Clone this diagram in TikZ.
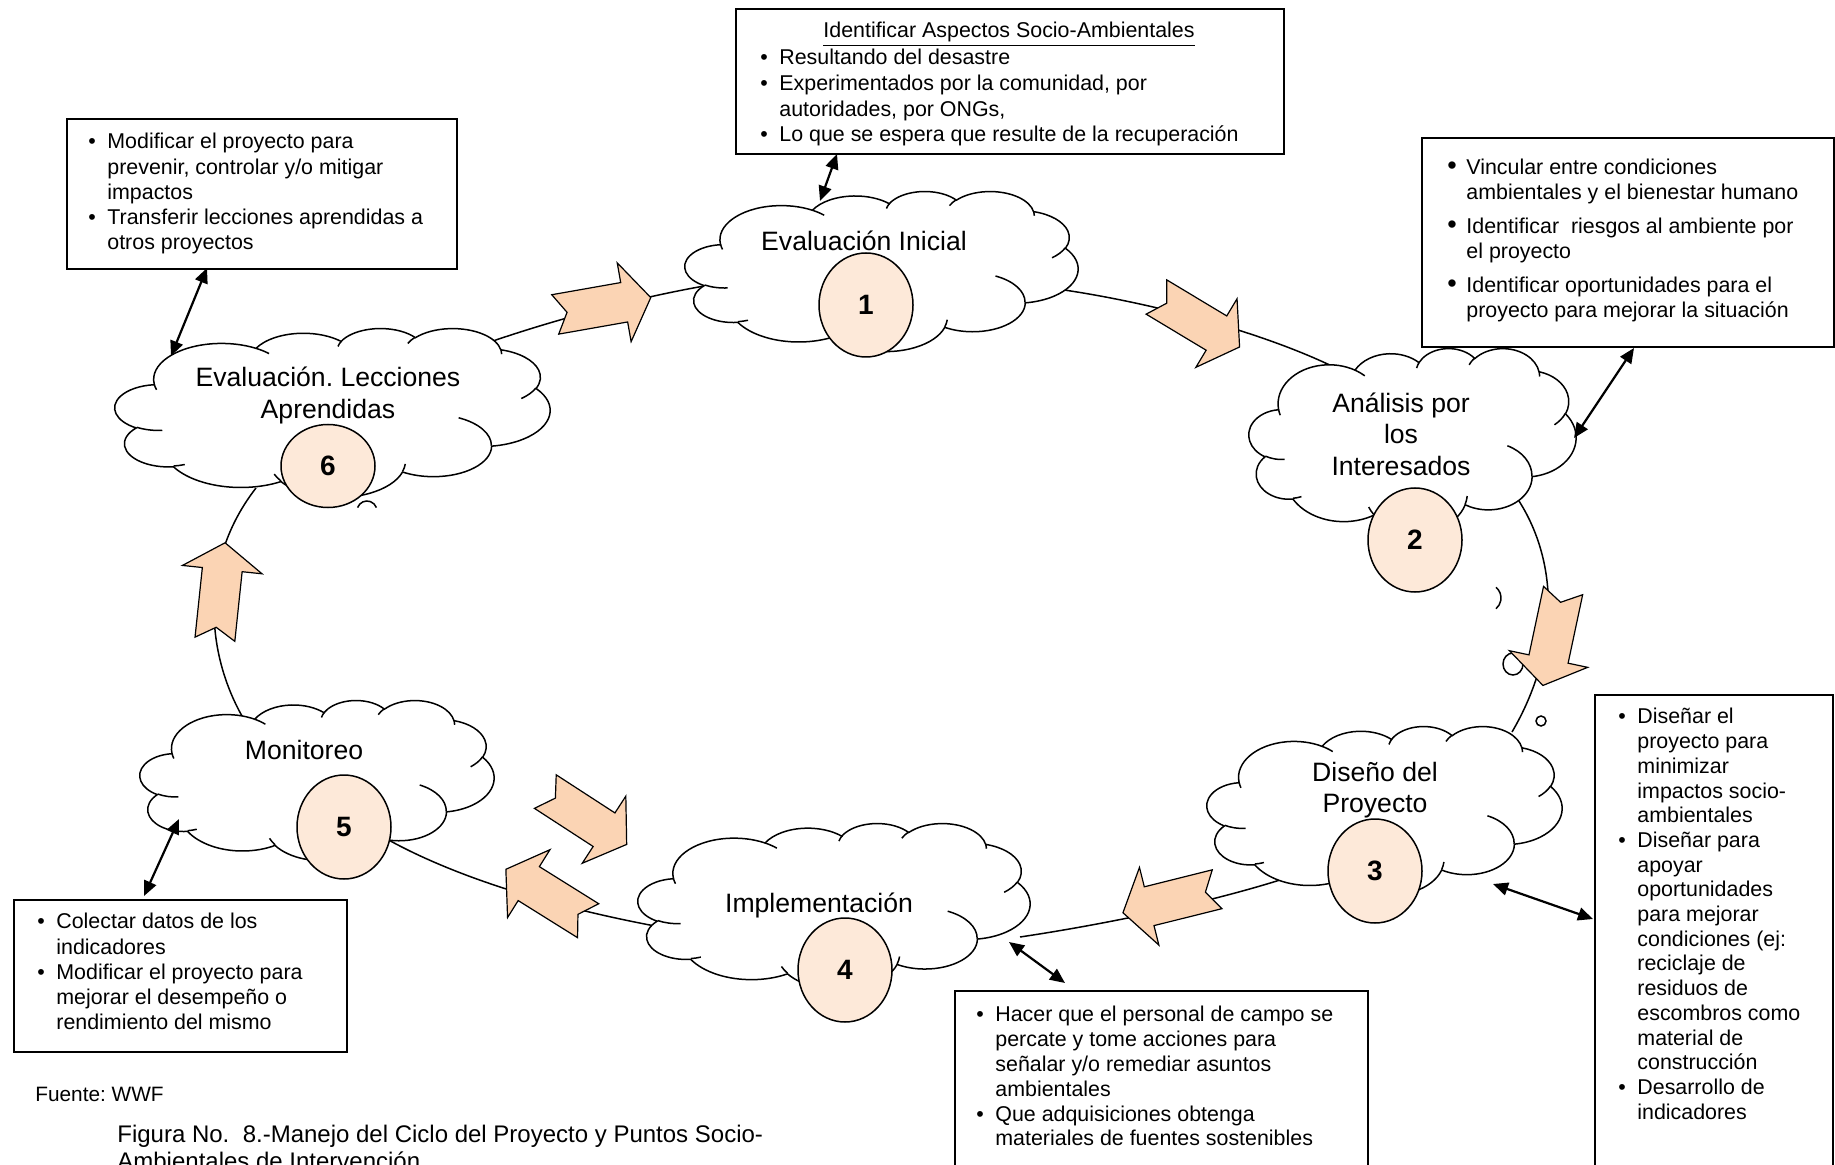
\documentclass[tikz,border=0pt]{standalone}
\usepackage{fontspec}
\setmainfont{Liberation Sans}
\usetikzlibrary{arrows.meta,shapes.geometric}
\definecolor{arrowpeach}{RGB}{251,212,180}
\definecolor{circpeach}{RGB}{253,233,217}
\frenchspacing

% DrawingML-like arcTo: visual angles -> parametric
\newcommand\mkarc[5]{%
  \pgfmathsetmacro\tmpA{atan2((#2)*sin(#4),(#3)*cos(#4))}%
  \pgfmathsetmacro\tmpB{atan2((#2)*sin((#4)+(#5)),(#3)*cos((#4)+(#5)))}%
  \pgfmathsetmacro\tmpD{\tmpB-\tmpA}%
  \pgfmathsetmacro\tmpD{ifthenelse(\tmpD<0,\tmpD+360,\tmpD)}%
  \expandafter\xdef\csname arc#1\endcsname{arc[start angle=\tmpA, delta angle=\tmpD, x radius=#2, y radius=#3]}%
}
\mkarc{MA}{67.53}{91.90}{-190.4875}{123.7805}
\mkarc{MB}{53.33}{72.67}{-144.1024}{89.9452}
\mkarc{MC}{43.65}{59.45}{-145.8079}{99.7230}
\mkarc{MD}{48.57}{65.95}{-130.9861}{117.2417}
\mkarc{ME}{53.33}{72.73}{-78.7089}{109.0269}
\mkarc{MF}{67.75}{92.20}{-46.2673}{130.2690}
\mkarc{MG}{57.85}{78.67}{0.6250}{114.0333}
\mkarc{MH}{67.52}{92.15}{22.4516}{115.1726}
\mkarc{MI}{77.20}{105.43}{66.2426}{75.7110}
\mkarc{MJ}{43.60}{59.18}{-274.9421}{146.7356}
\mkarc{MK}{43.45}{59.45}{-246.8285}{152.5189}
\mkarc{IA}{43.45}{59.45}{86.742}{26.4295}
\mkarc{IB}{43.60}{59.18}{73.6105}{11.4475}
\mkarc{IC}{67.52}{92.15}{137.6241}{14.0811}
\mkarc{ID}{67.52}{92.15}{6.4533}{15.9984}
\mkarc{IE}{57.85}{78.67}{-70.2924}{70.9174}
\mkarc{IF}{53.33}{72.73}{30.3180}{27.7515}
\mkarc{IG}{48.57}{65.95}{-13.7443}{14.8589}
\mkarc{IH}{48.57}{65.95}{-149.1815}{18.1954}
\mkarc{II}{43.65}{59.45}{-163.4943}{17.6864}
\mkarc{IJ}{67.53}{91.90}{-66.7070}{12.3194}
\mkarc{IK}{67.53}{91.90}{157.6544}{11.8582}

\def\cloudmain{(39,143.7) \arcMA \arcMB \arcMC \arcMD \arcME \arcMF \arcMG \arcMH \arcMI \arcMJ \arcMK -- cycle}
\def\cloudinner{(46.93,261.77) \arcIA (69.28,348.99) \arcIB (164.78,390.90) \arcIC (288.27,347.51) \arcID (341.29,229.54) \arcIE (417.98,153.54) \arcIF (383.24,54.26) \arcIG (290.78,39.52) \arcIH (221.41,47.20) \arcII (140.00,51.92) \arcIJ (41.27,157.89) \arcIK}

\newcommand\cloudat[4]{%
  \begin{scope}[shift={(#1,#2)}, xscale={(#3-#1)/432}, yscale={(#4-#2)/432}]
    \filldraw[cloudline] \cloudmain;
    \draw[cloudline] \cloudinner;
  \end{scope}}

\newcommand\blockarrow[3]{%
  \begin{scope}[shift={(#1,#2)}, rotate=#3]
    \filldraw[barrowst] (-48.5,-20) -- (21.5,-20) -- (21.5,-40) -- (48.5,0) -- (21.5,40) -- (21.5,20) -- (-48.5,20) -- (-36.5,0) -- cycle;
  \end{scope}}

\newcommand\bu{\makebox[9.5pt][l]{\textbullet}}
\newcommand\bbu{\makebox[9.5pt][l]{\fontsize{13.5}{13}\selectfont\textbullet}}
\newcommand\ind{\hspace*{9.5pt}}

\begin{document}
\begin{tikzpicture}[x=0.5pt,y=-0.5pt,
  cloudline/.style={line width=0.75pt, fill=white},
  cyc/.style={line width=0.75pt},
  barrowst/.style={fill=arrowpeach, draw=black, line width=0.6pt, line join=miter},
  numc/.style={ellipse, draw, line width=0.75pt, fill=circpeach, minimum width=47pt, minimum height=52pt, inner sep=0pt, font=\fontsize{14}{16}\selectfont\bfseries},
  clab/.style={align=center, font=\fontsize{13.3}{15.8}\selectfont, inner sep=0pt},
  boxst/.style={draw, line width=0.9pt, inner sep=0pt, anchor=north west},
  btext/.style={align=left, anchor=north west, inner sep=0pt, font=\fontsize{10.7}{12.6}\selectfont},
  dbl/.style={line width=1.1pt, {Triangle[length=7.5pt,width=6.5pt]}-{Triangle[length=7.5pt,width=6.5pt]}},
]
\useasboundingbox (0,0) rectangle (1835,1165);
\fill[white] (0,0) rectangle (1835,1165);

% cycle line segments
\coordinate (s1a) at (490,342); \coordinate (s1b) at (710,285);
\coordinate (s2a) at (1050,288); \coordinate (s2b) at (1340,370);
\coordinate (s3a) at (1515,495); \coordinate (s3b) at (1512,732);
\coordinate (s4a) at (1280,880); \coordinate (s4b) at (1020,937);
\coordinate (s5a) at (655,926); \coordinate (s5b) at (385,838);
\coordinate (s6a) at (242,716); \coordinate (s6b) at (256,488);
\draw[cyc] (s1a) .. controls (560,318) and (640,297) .. (s1b);
\draw[cyc] (s2a) .. controls (1140,300) and (1260,330) .. (s2b);
\draw[cyc] (s3a) .. controls (1560,560) and (1560,650) .. (s3b);
\draw[cyc] (s4a) .. controls (1200,905) and (1100,925) .. (s4b);
\draw[cyc] (s5a) .. controls (560,908) and (460,880) .. (s5b);
\draw[cyc] (s6a) .. controls (205,650) and (200,560) .. (s6b);

% clouds
\cloudat{685}{191}{1078}{351}
\cloudat{115}{328}{550}{497}
\cloudat{1249}{348}{1576}{532}
\cloudat{1207}{726}{1562}{895}
\cloudat{638}{823}{1030}{989}
\cloudat{140}{700}{494}{860}

% thought bubble remnants
\draw[cyc] (367,511) ++(200:10) arc[start angle=200, end angle=340, radius=10];
\draw[cyc] (1487,598) ++(-50:14) arc[start angle=-50, end angle=50, radius=14];
\draw[cyc, fill=white] (1513,664) ellipse[x radius=10, y radius=11];
\draw[cyc] (1541,721) circle[radius=5];

% numbered circles
\node[numc] (n1) at (866,305) {1};
\node[numc] (n2) at (1415,540) {2};
\node[numc] (n3) at (1375,871) {3};
\node[numc] (n4) at (845,970) {4};
\node[numc] (n5) at (344,827) {5};
\node[numc, minimum height=41.5pt] (n6) at (328,466) {6};

% cloud labels
\node[clab] (l1) at (864,241) {Evaluación Inicial};
\node[clab] (l6) at (328,395.5) {Evaluación. Lecciones\\Aprendidas};
\node[clab] (l2) at (1401,434) {Análisis por\\los\\Interesados};
\node[clab] (l3) at (1375,790) {Diseño del\\Proyecto};
\node[clab] (l4) at (819,905) {Implementación};
\node[clab] (l5) at (304,750) {Monitoreo};

% block arrows
\blockarrow{603}{306}{10}
\blockarrow{1198}{322}{-31}
\blockarrow{1553}{638}{-102}
\blockarrow{1170}{901}{194}
\blockarrow{547}{895}{148}
\blockarrow{586}{818}{-33}
\blockarrow{220}{591}{84}

% boxes
\node[boxst, minimum width=274pt, minimum height=72.5pt] (bA) at (735,8) {};
\node[boxst, minimum width=195pt, minimum height=75pt] (bB) at (66,118) {};
\node[boxst, minimum width=206pt, minimum height=104.5pt] (bC) at (1421,137) {};
\node[boxst, minimum width=166.5pt, minimum height=76pt] (bD) at (13,899) {};
\node[boxst, minimum width=206.5pt, minimum height=100pt] (bE) at (954,990) {};
\node[boxst, minimum width=119pt, minimum height=248pt] (bF) at (1594,694) {};

% box texts
\node[btext, anchor=north] (tA0) at (1009,22) {\underline{Identificar Aspectos Socio-Ambientales}};
\node[btext, font=\fontsize{10.7}{12.8}\selectfont] (tA) at (760,49) {\bu Resultando del desastre\\
\bu Experimentados por la comunidad, por\\
\ind autoridades, por ONGs,\\
\bu Lo que se espera que resulte de la recuperación};
\node[btext] (tB) at (88,133) {\bu Modificar el proyecto para\\
\ind prevenir, controlar y/o mitigar\\
\ind impactos\\
\bu Transferir lecciones aprendidas a\\
\ind otros proyectos};
\node[btext, font=\fontsize{10.7}{12.4}\selectfont] (tC) at (1447,159) {\bbu Vincular entre condiciones\\
\ind ambientales y el bienestar humano\\[4.7pt]
\bbu Identificar\ \ riesgos al ambiente por\\
\ind el proyecto\\[4.7pt]
\bbu Identificar oportunidades para el\\
\ind proyecto para mejorar la situación};
\node[btext] (tD) at (37,913) {\bu Colectar datos de los\\
\ind indicadores\\
\bu Modificar el proyecto para\\
\ind mejorar el desempeño o\\
\ind rendimiento del mismo};
\node[btext, font=\fontsize{10.7}{12.4}\selectfont] (tE) at (976,1006) {\bu Hacer que el personal de campo se\\
\ind percate y tome acciones para\\
\ind señalar y/o remediar asuntos\\
\ind ambientales\\
\bu Que adquisiciones obtenga\\
\ind materiales de fuentes sostenibles};
\node[btext, font=\fontsize{10.7}{12.35}\selectfont] (tF) at (1618,708) {\bu Diseñar el\\
\ind proyecto para\\
\ind minimizar\\
\ind impactos socio-\\
\ind ambientales\\
\bu Diseñar para\\
\ind apoyar\\
\ind oportunidades\\
\ind para mejorar\\
\ind condiciones (ej:\\
\ind reciclaje de\\
\ind residuos de\\
\ind escombros como\\
\ind material de\\
\ind construcción\\
\bu Desarrollo de\\
\ind indicadores};

% captions
\node[btext, font=\fontsize{10.4}{12.6}\selectfont] (fte) at (35,1087) {Fuente: WWF};
\node[btext, font=\fontsize{12}{13.6}\selectfont] (cap) at (117,1125) {Figura No.\ \ 8.-Manejo del Ciclo del Proyecto y Puntos Socio-\\Ambientales de Intervención};

% double-headed connectors
\coordinate (dA1) at (837,154); \coordinate (dA2) at (820,201);
\coordinate (dB1) at (207,268); \coordinate (dB2) at (171,356);
\coordinate (dC1) at (1634,348); \coordinate (dC2) at (1574,438);
\coordinate (dF1) at (1593,919); \coordinate (dF2) at (1493,884);
\coordinate (dE1) at (1065,983); \coordinate (dE2) at (1009,942);
\coordinate (dD1) at (144,896); \coordinate (dD2) at (179,819);
\draw[dbl] (dA1) -- (dA2);
\draw[dbl] (dB1) -- (dB2);
\draw[dbl] (dC1) -- (dC2);
\draw[dbl] (dF1) -- (dF2);
\draw[dbl] (dE1) -- (dE2);
\draw[dbl] (dD1) -- (dD2);
\end{tikzpicture}
\end{document}
